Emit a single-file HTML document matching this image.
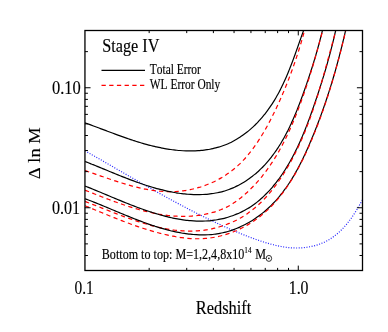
<!DOCTYPE html>
<html><head><meta charset="utf-8"><title>Stage IV</title>
<style>html,body{margin:0;padding:0;background:#fff;}body{width:388px;height:332px;overflow:hidden;font-family:"Liberation Serif",serif;}</style>
</head><body>
<svg width="388" height="332" viewBox="0 0 388 332" style="display:block;will-change:transform">
<rect width="388" height="332" fill="#fff"/>
<defs><clipPath id="c"><rect x="84.95" y="30.50" width="277.55" height="240.00"/></clipPath></defs>
<g clip-path="url(#c)" fill="none" stroke-linecap="butt" stroke-linejoin="round">
<path d="M85.04,150.84 C85.48,151.09 86.78,151.82 87.65,152.31 C88.52,152.80 89.39,153.30 90.26,153.79 C91.13,154.28 91.99,154.78 92.86,155.27 C93.73,155.77 94.60,156.26 95.47,156.76 C96.34,157.26 97.20,157.75 98.07,158.25 C98.94,158.75 99.80,159.24 100.67,159.74 C101.54,160.24 102.40,160.73 103.27,161.23 C104.14,161.73 105.00,162.22 105.87,162.72 C106.74,163.22 107.60,163.72 108.47,164.22 C109.34,164.72 110.20,165.22 111.07,165.72 C111.94,166.22 112.80,166.72 113.67,167.22 C114.54,167.72 115.40,168.21 116.27,168.71 C117.14,169.21 118.00,169.71 118.87,170.21 C119.74,170.71 120.60,171.21 121.47,171.71 C122.34,172.21 123.20,172.71 124.07,173.21 C124.94,173.71 125.80,174.21 126.67,174.71 C127.54,175.21 128.40,175.71 129.27,176.21 C130.14,176.71 131.00,177.20 131.87,177.70 C132.74,178.20 133.60,178.69 134.47,179.19 C135.34,179.69 136.21,180.19 137.08,180.69 C137.95,181.19 138.81,181.69 139.68,182.18 C140.55,182.68 141.42,183.16 142.29,183.66 C143.16,184.16 144.03,184.66 144.90,185.15 C145.77,185.65 146.64,186.14 147.51,186.63 C148.38,187.12 149.25,187.61 150.12,188.10 C150.99,188.59 151.86,189.09 152.73,189.58 C153.60,190.07 154.48,190.56 155.35,191.05 C156.22,191.54 157.09,192.02 157.96,192.51 C158.83,193.00 159.71,193.48 160.58,193.97 C161.46,194.46 162.34,194.95 163.21,195.43 C164.09,195.91 164.96,196.39 165.83,196.87 C166.71,197.35 167.58,197.84 168.46,198.32 C169.34,198.80 170.21,199.28 171.09,199.76 C171.97,200.24 172.85,200.72 173.73,201.19 C174.61,201.66 175.49,202.14 176.37,202.61 C177.25,203.08 178.13,203.56 179.01,204.03 C179.89,204.50 180.77,204.97 181.65,205.44 C182.53,205.91 183.42,206.38 184.30,206.84 C185.19,207.31 186.08,207.77 186.96,208.23 C187.84,208.69 188.72,209.16 189.61,209.62 C190.50,210.08 191.39,210.53 192.28,210.99 C193.17,211.45 194.05,211.91 194.94,212.36 C195.83,212.81 196.72,213.27 197.61,213.72 C198.50,214.17 199.40,214.62 200.29,215.07 C201.18,215.52 202.07,215.97 202.97,216.41 C203.87,216.85 204.76,217.30 205.66,217.74 C206.56,218.18 207.45,218.61 208.35,219.05 C209.25,219.49 210.14,219.93 211.04,220.36 C211.94,220.80 212.85,221.23 213.75,221.66 C214.65,222.09 215.55,222.52 216.45,222.94 C217.35,223.36 218.26,223.78 219.17,224.20 C220.08,224.62 220.98,225.04 221.89,225.46 C222.80,225.88 223.70,226.29 224.61,226.70 C225.52,227.11 226.44,227.51 227.35,227.92 C228.26,228.32 229.18,228.73 230.09,229.13 C231.00,229.53 231.91,229.93 232.83,230.32 C233.75,230.71 234.67,231.10 235.59,231.49 C236.51,231.88 237.43,232.27 238.35,232.65 C239.27,233.03 240.19,233.41 241.12,233.78 C242.05,234.16 242.97,234.53 243.90,234.90 C244.83,235.27 245.75,235.63 246.68,235.99 C247.61,236.35 248.54,236.71 249.48,237.06 C250.41,237.41 251.35,237.76 252.29,238.10 C253.23,238.44 254.17,238.78 255.11,239.12 C256.05,239.46 256.99,239.79 257.94,240.11 C258.89,240.43 259.84,240.75 260.79,241.06 C261.74,241.37 262.69,241.69 263.65,241.99 C264.61,242.29 265.57,242.59 266.53,242.88 C267.49,243.17 268.46,243.46 269.43,243.73 C270.40,244.00 271.38,244.27 272.35,244.52 C273.32,244.78 274.29,245.02 275.27,245.26 C276.25,245.50 277.24,245.72 278.22,245.93 C279.21,246.14 280.19,246.34 281.18,246.52 C282.17,246.70 283.16,246.88 284.15,247.03 C285.14,247.18 286.13,247.31 287.13,247.43 C288.13,247.55 289.13,247.65 290.13,247.73 C291.13,247.81 292.13,247.88 293.13,247.92 C294.13,247.96 295.14,247.99 296.14,247.99 C297.14,247.99 298.14,247.97 299.14,247.94 C300.14,247.91 301.13,247.85 302.13,247.78 C303.12,247.71 304.12,247.61 305.11,247.49 C306.10,247.37 307.08,247.24 308.06,247.08 C309.04,246.92 310.01,246.74 310.98,246.54 C311.95,246.34 312.92,246.12 313.88,245.87 C314.84,245.62 315.79,245.36 316.73,245.07 C317.67,244.78 318.60,244.47 319.53,244.13 C320.45,243.79 321.37,243.44 322.28,243.06 C323.19,242.68 324.08,242.28 324.97,241.85 C325.86,241.42 326.74,240.97 327.60,240.50 C328.47,240.03 329.32,239.52 330.16,239.00 C331.00,238.48 331.83,237.93 332.64,237.36 C333.45,236.79 334.25,236.19 335.04,235.58 C335.83,234.97 336.61,234.33 337.37,233.68 C338.13,233.03 338.88,232.36 339.62,231.67 C340.36,230.98 341.09,230.27 341.80,229.55 C342.51,228.83 343.21,228.09 343.90,227.34 C344.59,226.59 345.26,225.83 345.92,225.05 C346.58,224.28 347.23,223.49 347.87,222.69 C348.51,221.89 349.13,221.08 349.74,220.26 C350.35,219.44 350.94,218.62 351.53,217.79 C352.12,216.96 352.69,216.12 353.26,215.28 C353.82,214.44 354.38,213.59 354.92,212.74 C355.46,211.89 355.99,211.04 356.51,210.19 C357.03,209.34 357.55,208.48 358.05,207.63 C358.55,206.78 359.04,205.93 359.53,205.08 C360.01,204.24 360.49,203.40 360.96,202.56 C361.43,201.72 361.90,200.88 362.35,200.06 C362.81,199.24 363.25,198.42 363.69,197.61 C364.13,196.80 364.56,196.01 364.99,195.22 C365.42,194.43 366.04,193.28 366.25,192.89" stroke="#2424ff" stroke-width="1.2" stroke-dasharray="1.0,1.6"/>
<path d="M85.06,122.91 C85.53,123.08 86.94,123.57 87.87,123.91 C88.81,124.25 89.73,124.59 90.67,124.93 C91.61,125.27 92.55,125.61 93.48,125.96 C94.42,126.30 95.35,126.65 96.28,127.00 C97.21,127.35 98.15,127.69 99.08,128.04 C100.01,128.39 100.95,128.74 101.88,129.09 C102.81,129.44 103.74,129.80 104.67,130.15 C105.60,130.50 106.54,130.85 107.47,131.20 C108.40,131.55 109.33,131.90 110.27,132.25 C111.20,132.60 112.14,132.95 113.08,133.30 C114.02,133.65 114.94,134.00 115.88,134.34 C116.81,134.69 117.75,135.03 118.69,135.37 C119.63,135.71 120.57,136.05 121.51,136.39 C122.45,136.73 123.39,137.06 124.33,137.39 C125.27,137.72 126.22,138.05 127.16,138.38 C128.10,138.71 129.05,139.03 129.99,139.35 C130.94,139.67 131.88,139.98 132.83,140.29 C133.78,140.60 134.73,140.92 135.68,141.22 C136.63,141.52 137.58,141.82 138.54,142.11 C139.50,142.40 140.45,142.69 141.41,142.98 C142.37,143.26 143.34,143.55 144.30,143.82 C145.26,144.09 146.22,144.36 147.19,144.62 C148.16,144.88 149.12,145.13 150.09,145.38 C151.06,145.63 152.03,145.87 153.01,146.11 C153.99,146.35 154.97,146.58 155.95,146.80 C156.93,147.02 157.91,147.23 158.90,147.44 C159.89,147.65 160.87,147.85 161.86,148.04 C162.85,148.23 163.84,148.41 164.84,148.59 C165.84,148.77 166.84,148.93 167.84,149.09 C168.84,149.25 169.84,149.39 170.85,149.53 C171.86,149.67 172.87,149.80 173.88,149.92 C174.89,150.04 175.90,150.15 176.91,150.25 C177.92,150.35 178.94,150.44 179.95,150.52 C180.96,150.60 181.98,150.67 182.99,150.73 C184.00,150.79 185.02,150.83 186.03,150.86 C187.04,150.89 188.05,150.92 189.06,150.93 C190.07,150.94 191.09,150.94 192.10,150.93 C193.11,150.92 194.12,150.89 195.12,150.85 C196.12,150.81 197.13,150.76 198.13,150.69 C199.13,150.62 200.12,150.54 201.12,150.45 C202.12,150.35 203.11,150.24 204.10,150.12 C205.09,150.00 206.07,149.86 207.05,149.71 C208.03,149.56 209.02,149.40 209.99,149.22 C210.96,149.04 211.93,148.84 212.89,148.63 C213.85,148.42 214.82,148.19 215.77,147.94 C216.72,147.69 217.67,147.44 218.61,147.16 C219.55,146.88 220.48,146.59 221.41,146.28 C222.34,145.97 223.26,145.64 224.18,145.29 C225.10,144.94 226.01,144.58 226.91,144.20 C227.81,143.82 228.70,143.42 229.59,143.01 C230.48,142.59 231.36,142.16 232.23,141.71 C233.10,141.26 233.96,140.80 234.82,140.32 C235.68,139.84 236.53,139.35 237.37,138.84 C238.21,138.33 239.04,137.80 239.87,137.26 C240.70,136.72 241.52,136.17 242.33,135.60 C243.14,135.03 243.94,134.44 244.73,133.85 C245.52,133.25 246.31,132.65 247.09,132.03 C247.87,131.41 248.64,130.78 249.40,130.13 C250.16,129.48 250.91,128.83 251.66,128.16 C252.41,127.49 253.14,126.80 253.87,126.11 C254.60,125.42 255.31,124.72 256.02,124.01 C256.73,123.30 257.43,122.57 258.12,121.84 C258.81,121.11 259.50,120.36 260.17,119.61 C260.85,118.86 261.51,118.09 262.17,117.32 C262.83,116.55 263.47,115.78 264.11,114.99 C264.75,114.20 265.37,113.40 265.99,112.60 C266.61,111.80 267.22,110.99 267.82,110.17 C268.42,109.35 269.00,108.53 269.58,107.70 C270.16,106.87 270.73,106.03 271.29,105.19 C271.85,104.35 272.41,103.50 272.95,102.65 C273.49,101.80 274.02,100.94 274.54,100.07 C275.06,99.20 275.58,98.33 276.09,97.46 C276.60,96.59 277.09,95.71 277.58,94.83 C278.07,93.95 278.55,93.05 279.03,92.16 C279.50,91.27 279.97,90.37 280.43,89.47 C280.89,88.57 281.33,87.67 281.78,86.76 C282.22,85.85 282.67,84.94 283.10,84.03 C283.53,83.12 283.95,82.20 284.37,81.28 C284.79,80.36 285.20,79.44 285.61,78.52 C286.02,77.59 286.41,76.66 286.81,75.73 C287.21,74.80 287.60,73.87 287.99,72.94 C288.38,72.01 288.75,71.08 289.13,70.14 C289.51,69.20 289.88,68.27 290.25,67.33 C290.62,66.39 290.98,65.45 291.34,64.51 C291.70,63.57 292.06,62.63 292.41,61.69 C292.76,60.75 293.11,59.81 293.46,58.87 C293.81,57.93 294.15,56.98 294.49,56.04 C294.83,55.10 295.17,54.16 295.51,53.22 C295.85,52.28 296.18,51.34 296.51,50.40 C296.84,49.46 297.18,48.53 297.51,47.59 C297.84,46.66 298.16,45.72 298.49,44.79 C298.82,43.86 299.14,42.93 299.47,42.00 C299.80,41.07 300.12,40.14 300.45,39.22 C300.77,38.30 301.10,37.38 301.42,36.46 C301.75,35.54 302.07,34.62 302.40,33.71 C302.73,32.80 303.05,31.89 303.38,30.98 C303.71,30.07 304.04,29.18 304.37,28.28 C304.70,27.38 305.04,26.48 305.37,25.59 C305.70,24.70 306.03,23.81 306.37,22.93 C306.71,22.05 307.22,20.74 307.39,20.30" stroke="#000" stroke-width="1.2"/>
<path d="M85.06,170.58 C85.51,170.73 86.86,171.18 87.77,171.49 C88.68,171.80 89.59,172.12 90.51,172.43 C91.43,172.75 92.35,173.06 93.27,173.38 C94.19,173.70 95.11,174.02 96.04,174.35 C96.97,174.68 97.90,175.00 98.84,175.33 C99.78,175.66 100.72,175.98 101.66,176.31 C102.60,176.64 103.54,176.96 104.49,177.29 C105.44,177.62 106.39,177.95 107.34,178.28 C108.29,178.61 109.24,178.93 110.20,179.25 C111.16,179.57 112.12,179.90 113.08,180.22 C114.04,180.54 115.00,180.85 115.97,181.17 C116.94,181.48 117.91,181.80 118.88,182.11 C119.85,182.42 120.83,182.72 121.80,183.02 C122.77,183.32 123.74,183.62 124.72,183.91 C125.70,184.20 126.68,184.49 127.66,184.77 C128.64,185.05 129.62,185.33 130.61,185.60 C131.60,185.87 132.58,186.13 133.57,186.39 C134.56,186.65 135.55,186.90 136.54,187.14 C137.53,187.38 138.52,187.62 139.51,187.85 C140.50,188.08 141.50,188.29 142.49,188.50 C143.48,188.71 144.47,188.92 145.47,189.11 C146.47,189.30 147.46,189.49 148.46,189.66 C149.46,189.83 150.45,190.01 151.45,190.16 C152.45,190.31 153.45,190.45 154.45,190.58 C155.45,190.71 156.44,190.84 157.44,190.95 C158.44,191.06 159.44,191.16 160.44,191.24 C161.44,191.32 162.44,191.39 163.44,191.45 C164.44,191.51 165.44,191.56 166.44,191.59 C167.44,191.62 168.43,191.65 169.43,191.65 C170.43,191.66 171.43,191.65 172.43,191.62 C173.43,191.59 174.42,191.56 175.42,191.50 C176.41,191.44 177.41,191.37 178.40,191.29 C179.39,191.21 180.38,191.11 181.37,191.00 C182.36,190.89 183.35,190.76 184.34,190.62 C185.33,190.48 186.31,190.32 187.29,190.15 C188.27,189.98 189.25,189.80 190.22,189.60 C191.19,189.40 192.17,189.19 193.14,188.97 C194.11,188.75 195.08,188.50 196.04,188.25 C197.00,188.00 197.96,187.73 198.91,187.45 C199.86,187.17 200.81,186.87 201.76,186.56 C202.70,186.25 203.65,185.93 204.58,185.59 C205.52,185.25 206.44,184.91 207.37,184.55 C208.30,184.19 209.22,183.81 210.13,183.42 C211.04,183.03 211.95,182.63 212.85,182.21 C213.75,181.79 214.64,181.36 215.53,180.92 C216.42,180.48 217.31,180.03 218.18,179.56 C219.06,179.09 219.92,178.61 220.78,178.11 C221.64,177.62 222.50,177.11 223.34,176.59 C224.19,176.07 225.02,175.55 225.85,175.00 C226.68,174.45 227.50,173.89 228.31,173.32 C229.12,172.75 229.93,172.17 230.72,171.58 C231.51,170.99 232.30,170.38 233.08,169.76 C233.86,169.14 234.62,168.51 235.38,167.86 C236.14,167.22 236.88,166.56 237.62,165.89 C238.36,165.22 239.08,164.54 239.80,163.85 C240.52,163.16 241.22,162.45 241.92,161.74 C242.62,161.03 243.30,160.30 243.98,159.57 C244.66,158.84 245.32,158.09 245.98,157.34 C246.64,156.59 247.30,155.82 247.94,155.05 C248.58,154.28 249.22,153.50 249.84,152.71 C250.47,151.92 251.08,151.13 251.69,150.33 C252.30,149.53 252.90,148.72 253.49,147.90 C254.08,147.09 254.67,146.27 255.25,145.44 C255.83,144.61 256.41,143.78 256.97,142.94 C257.54,142.10 258.09,141.26 258.64,140.41 C259.19,139.56 259.73,138.71 260.27,137.86 C260.81,137.01 261.34,136.15 261.87,135.29 C262.40,134.43 262.92,133.56 263.43,132.69 C263.94,131.82 264.45,130.95 264.95,130.08 C265.45,129.21 265.95,128.33 266.44,127.45 C266.93,126.57 267.42,125.69 267.90,124.80 C268.38,123.91 268.86,123.02 269.33,122.13 C269.80,121.24 270.27,120.35 270.73,119.46 C271.19,118.57 271.65,117.67 272.10,116.77 C272.55,115.87 273.00,114.97 273.45,114.07 C273.89,113.17 274.33,112.27 274.77,111.36 C275.20,110.45 275.63,109.55 276.06,108.64 C276.49,107.73 276.92,106.83 277.34,105.92 C277.76,105.01 278.18,104.10 278.59,103.19 C279.00,102.28 279.41,101.37 279.82,100.46 C280.23,99.55 280.63,98.63 281.03,97.72 C281.43,96.81 281.84,95.90 282.23,94.98 C282.62,94.06 283.01,93.15 283.40,92.23 C283.79,91.31 284.18,90.40 284.56,89.48 C284.94,88.56 285.31,87.64 285.69,86.72 C286.06,85.80 286.44,84.87 286.81,83.95 C287.18,83.03 287.54,82.11 287.90,81.18 C288.26,80.26 288.62,79.33 288.98,78.40 C289.34,77.47 289.69,76.55 290.04,75.62 C290.39,74.69 290.74,73.76 291.08,72.83 C291.42,71.90 291.77,70.97 292.11,70.03 C292.45,69.09 292.79,68.16 293.12,67.22 C293.45,66.28 293.77,65.35 294.10,64.41 C294.43,63.47 294.76,62.52 295.08,61.58 C295.40,60.64 295.71,59.70 296.03,58.75 C296.34,57.80 296.66,56.86 296.97,55.91 C297.28,54.96 297.58,54.02 297.89,53.07 C298.19,52.12 298.50,51.16 298.80,50.21 C299.10,49.26 299.40,48.30 299.69,47.34 C299.98,46.38 300.27,45.43 300.56,44.47 C300.85,43.51 301.14,42.54 301.42,41.58 C301.70,40.62 301.98,39.66 302.26,38.69 C302.54,37.72 302.82,36.75 303.09,35.78 C303.36,34.81 303.63,33.84 303.90,32.87 C304.17,31.90 304.44,30.92 304.70,29.94 C304.96,28.96 305.22,27.98 305.48,27.00 C305.74,26.02 306.00,25.04 306.25,24.05 C306.50,23.07 306.88,21.58 307.01,21.09" stroke="#ff0000" stroke-width="1.2" stroke-dasharray="4.3,3.4"/>
<path d="M85.06,161.46 C85.50,161.63 86.84,162.16 87.73,162.51 C88.62,162.86 89.51,163.22 90.41,163.58 C91.31,163.94 92.21,164.29 93.11,164.66 C94.01,165.03 94.91,165.40 95.82,165.77 C96.73,166.14 97.64,166.52 98.55,166.89 C99.46,167.26 100.38,167.63 101.29,168.01 C102.21,168.39 103.12,168.77 104.04,169.15 C104.96,169.53 105.88,169.91 106.80,170.29 C107.72,170.67 108.64,171.06 109.57,171.44 C110.50,171.82 111.43,172.20 112.36,172.58 C113.29,172.96 114.22,173.35 115.15,173.73 C116.08,174.11 117.02,174.49 117.96,174.87 C118.90,175.25 119.84,175.62 120.78,176.00 C121.72,176.38 122.66,176.75 123.61,177.12 C124.56,177.49 125.50,177.86 126.45,178.23 C127.40,178.60 128.34,178.97 129.29,179.33 C130.24,179.69 131.19,180.05 132.15,180.40 C133.11,180.75 134.06,181.11 135.02,181.46 C135.98,181.81 136.93,182.16 137.89,182.50 C138.85,182.84 139.81,183.18 140.77,183.51 C141.73,183.84 142.69,184.18 143.66,184.50 C144.62,184.82 145.59,185.14 146.56,185.45 C147.53,185.76 148.50,186.07 149.47,186.37 C150.44,186.67 151.41,186.97 152.38,187.26 C153.35,187.55 154.33,187.83 155.30,188.11 C156.27,188.39 157.25,188.66 158.22,188.92 C159.19,189.18 160.17,189.43 161.15,189.68 C162.13,189.93 163.11,190.17 164.09,190.40 C165.07,190.63 166.05,190.86 167.03,191.08 C168.01,191.30 169.00,191.50 169.98,191.70 C170.96,191.90 171.95,192.09 172.93,192.27 C173.91,192.45 174.89,192.62 175.88,192.78 C176.87,192.94 177.85,193.10 178.84,193.24 C179.83,193.38 180.82,193.52 181.81,193.64 C182.80,193.76 183.78,193.87 184.77,193.97 C185.76,194.07 186.75,194.16 187.74,194.24 C188.73,194.32 189.72,194.38 190.71,194.44 C191.70,194.50 192.70,194.54 193.69,194.57 C194.68,194.60 195.67,194.62 196.66,194.62 C197.65,194.62 198.65,194.62 199.64,194.60 C200.63,194.58 201.63,194.55 202.62,194.51 C203.61,194.47 204.61,194.41 205.60,194.33 C206.59,194.26 207.59,194.16 208.58,194.06 C209.57,193.96 210.56,193.84 211.55,193.71 C212.54,193.58 213.52,193.44 214.51,193.27 C215.50,193.11 216.48,192.92 217.46,192.72 C218.44,192.52 219.41,192.31 220.38,192.08 C221.35,191.85 222.32,191.59 223.28,191.32 C224.24,191.05 225.20,190.76 226.15,190.45 C227.10,190.14 228.04,189.81 228.98,189.47 C229.92,189.12 230.85,188.76 231.77,188.38 C232.69,188.00 233.61,187.60 234.52,187.19 C235.43,186.78 236.32,186.34 237.22,185.89 C238.12,185.44 239.01,184.98 239.89,184.50 C240.77,184.02 241.64,183.53 242.50,183.02 C243.36,182.51 244.22,181.99 245.06,181.45 C245.91,180.91 246.74,180.36 247.57,179.80 C248.40,179.24 249.21,178.66 250.02,178.07 C250.83,177.48 251.62,176.87 252.41,176.26 C253.20,175.65 253.97,175.02 254.74,174.39 C255.51,173.75 256.26,173.10 257.01,172.45 C257.76,171.79 258.50,171.13 259.22,170.46 C259.95,169.79 260.66,169.10 261.36,168.40 C262.06,167.70 262.76,167.00 263.45,166.28 C264.13,165.56 264.81,164.84 265.47,164.11 C266.14,163.38 266.79,162.64 267.44,161.89 C268.09,161.14 268.72,160.38 269.35,159.61 C269.98,158.84 270.60,158.07 271.21,157.29 C271.82,156.51 272.42,155.72 273.02,154.92 C273.62,154.12 274.20,153.32 274.78,152.51 C275.36,151.70 275.92,150.88 276.48,150.05 C277.04,149.23 277.59,148.40 278.14,147.56 C278.69,146.72 279.22,145.87 279.75,145.02 C280.28,144.17 280.81,143.31 281.32,142.45 C281.83,141.59 282.34,140.72 282.84,139.85 C283.34,138.98 283.84,138.10 284.33,137.22 C284.82,136.34 285.30,135.44 285.77,134.55 C286.24,133.66 286.71,132.76 287.17,131.86 C287.63,130.96 288.09,130.06 288.54,129.15 C288.99,128.24 289.43,127.33 289.87,126.41 C290.31,125.49 290.73,124.57 291.16,123.65 C291.59,122.73 292.01,121.80 292.43,120.87 C292.85,119.94 293.25,119.01 293.66,118.08 C294.07,117.15 294.46,116.21 294.86,115.27 C295.26,114.33 295.65,113.39 296.04,112.45 C296.43,111.51 296.81,110.56 297.19,109.62 C297.57,108.68 297.94,107.74 298.31,106.79 C298.68,105.84 299.05,104.89 299.41,103.94 C299.77,102.99 300.13,102.05 300.49,101.10 C300.85,100.15 301.19,99.20 301.54,98.25 C301.89,97.30 302.24,96.36 302.58,95.41 C302.92,94.46 303.26,93.52 303.60,92.57 C303.94,91.62 304.28,90.67 304.61,89.73 C304.94,88.79 305.27,87.84 305.60,86.90 C305.93,85.96 306.25,85.02 306.57,84.08 C306.89,83.14 307.22,82.20 307.54,81.26 C307.86,80.32 308.18,79.39 308.49,78.45 C308.80,77.51 309.11,76.58 309.42,75.64 C309.73,74.70 310.03,73.77 310.34,72.83 C310.64,71.89 310.95,70.96 311.25,70.02 C311.55,69.08 311.85,68.14 312.15,67.20 C312.45,66.26 312.74,65.32 313.03,64.38 C313.32,63.44 313.61,62.49 313.90,61.55 C314.19,60.61 314.47,59.66 314.76,58.72 C315.05,57.77 315.33,56.83 315.61,55.88 C315.89,54.93 316.17,53.98 316.44,53.02 C316.71,52.07 316.99,51.11 317.26,50.15 C317.53,49.19 317.79,48.23 318.06,47.27 C318.33,46.31 318.60,45.34 318.86,44.37 C319.12,43.40 319.38,42.43 319.64,41.45 C319.90,40.47 320.16,39.49 320.41,38.51 C320.67,37.52 320.92,36.53 321.17,35.54 C321.42,34.55 321.67,33.56 321.92,32.56 C322.17,31.56 322.42,30.56 322.66,29.55 C322.90,28.54 323.14,27.53 323.38,26.51 C323.62,25.49 323.85,24.47 324.09,23.44 C324.33,22.41 324.68,20.87 324.80,20.35" stroke="#000" stroke-width="1.2"/>
<path d="M85.01,190.19 C85.47,190.37 86.83,190.90 87.74,191.26 C88.65,191.62 89.56,191.99 90.48,192.35 C91.40,192.71 92.31,193.07 93.23,193.43 C94.15,193.79 95.08,194.16 96.00,194.52 C96.92,194.88 97.84,195.25 98.77,195.61 C99.70,195.97 100.63,196.34 101.56,196.70 C102.49,197.06 103.42,197.42 104.36,197.78 C105.30,198.14 106.23,198.50 107.17,198.86 C108.11,199.22 109.06,199.57 110.00,199.92 C110.94,200.27 111.88,200.63 112.83,200.98 C113.78,201.33 114.72,201.68 115.67,202.02 C116.62,202.36 117.57,202.70 118.52,203.04 C119.47,203.38 120.42,203.71 121.38,204.04 C122.33,204.37 123.29,204.70 124.25,205.02 C125.21,205.34 126.17,205.66 127.13,205.98 C128.09,206.29 129.06,206.60 130.02,206.91 C130.99,207.22 131.95,207.51 132.92,207.81 C133.89,208.11 134.85,208.40 135.82,208.68 C136.79,208.96 137.76,209.24 138.73,209.51 C139.70,209.78 140.67,210.05 141.64,210.31 C142.61,210.57 143.59,210.82 144.57,211.07 C145.55,211.32 146.52,211.56 147.50,211.79 C148.48,212.02 149.45,212.25 150.43,212.47 C151.41,212.69 152.39,212.90 153.37,213.10 C154.35,213.30 155.33,213.49 156.31,213.68 C157.29,213.87 158.27,214.05 159.26,214.22 C160.25,214.39 161.24,214.55 162.22,214.70 C163.20,214.85 164.18,214.99 165.17,215.12 C166.16,215.25 167.15,215.38 168.14,215.49 C169.13,215.60 170.11,215.70 171.10,215.79 C172.09,215.88 173.08,215.97 174.07,216.04 C175.06,216.11 176.05,216.17 177.04,216.22 C178.03,216.27 179.02,216.31 180.01,216.33 C181.00,216.36 181.99,216.37 182.98,216.37 C183.97,216.37 184.96,216.36 185.95,216.34 C186.94,216.32 187.94,216.29 188.93,216.24 C189.92,216.19 190.91,216.12 191.90,216.05 C192.89,215.98 193.89,215.89 194.88,215.79 C195.87,215.69 196.87,215.58 197.86,215.45 C198.85,215.32 199.84,215.18 200.83,215.02 C201.82,214.86 202.82,214.69 203.81,214.51 C204.80,214.32 205.79,214.12 206.78,213.91 C207.77,213.69 208.75,213.47 209.74,213.22 C210.73,212.97 211.71,212.71 212.69,212.43 C213.67,212.15 214.64,211.87 215.60,211.56 C216.56,211.25 217.51,210.93 218.46,210.59 C219.41,210.25 220.35,209.90 221.28,209.53 C222.21,209.16 223.12,208.77 224.02,208.36 C224.92,207.95 225.82,207.53 226.70,207.09 C227.58,206.65 228.45,206.18 229.31,205.70 C230.17,205.22 231.02,204.72 231.86,204.20 C232.70,203.68 233.53,203.15 234.35,202.60 C235.17,202.05 235.98,201.47 236.79,200.89 C237.60,200.31 238.40,199.71 239.19,199.10 C239.98,198.49 240.77,197.86 241.55,197.22 C242.33,196.58 243.10,195.93 243.86,195.27 C244.62,194.61 245.38,193.95 246.12,193.27 C246.87,192.59 247.60,191.91 248.33,191.22 C249.06,190.53 249.79,189.83 250.50,189.13 C251.21,188.43 251.91,187.72 252.61,187.00 C253.31,186.28 254.00,185.56 254.68,184.83 C255.36,184.10 256.02,183.36 256.69,182.62 C257.36,181.88 258.02,181.13 258.67,180.38 C259.32,179.62 259.95,178.86 260.59,178.09 C261.22,177.32 261.86,176.56 262.48,175.78 C263.10,175.00 263.71,174.22 264.32,173.43 C264.93,172.64 265.52,171.84 266.11,171.04 C266.70,170.24 267.29,169.44 267.87,168.63 C268.45,167.82 269.02,167.00 269.59,166.18 C270.15,165.36 270.71,164.54 271.26,163.71 C271.81,162.88 272.36,162.05 272.90,161.21 C273.44,160.37 273.97,159.53 274.50,158.68 C275.03,157.83 275.55,156.98 276.07,156.13 C276.59,155.28 277.10,154.41 277.60,153.55 C278.10,152.69 278.60,151.82 279.09,150.95 C279.58,150.08 280.07,149.20 280.55,148.32 C281.03,147.44 281.51,146.56 281.98,145.68 C282.45,144.80 282.91,143.90 283.37,143.01 C283.83,142.12 284.29,141.23 284.74,140.33 C285.19,139.43 285.63,138.53 286.07,137.63 C286.51,136.73 286.95,135.82 287.38,134.91 C287.81,134.00 288.24,133.09 288.66,132.18 C289.08,131.27 289.50,130.36 289.91,129.44 C290.32,128.52 290.73,127.60 291.13,126.68 C291.53,125.76 291.93,124.83 292.33,123.91 C292.73,122.98 293.12,122.06 293.51,121.13 C293.90,120.20 294.28,119.27 294.66,118.34 C295.04,117.41 295.42,116.48 295.79,115.55 C296.16,114.62 296.53,113.67 296.90,112.74 C297.27,111.80 297.63,110.88 297.99,109.94 C298.35,109.00 298.71,108.06 299.06,107.12 C299.41,106.18 299.76,105.25 300.11,104.31 C300.46,103.37 300.80,102.43 301.14,101.49 C301.48,100.55 301.82,99.61 302.16,98.67 C302.50,97.73 302.83,96.78 303.16,95.84 C303.49,94.90 303.81,93.96 304.14,93.02 C304.46,92.08 304.79,91.13 305.11,90.19 C305.43,89.25 305.75,88.30 306.06,87.35 C306.38,86.40 306.69,85.46 307.00,84.51 C307.31,83.56 307.61,82.62 307.92,81.67 C308.23,80.72 308.54,79.78 308.84,78.83 C309.14,77.88 309.44,76.93 309.74,75.98 C310.04,75.03 310.33,74.08 310.62,73.13 C310.91,72.18 311.21,71.22 311.50,70.27 C311.79,69.32 312.07,68.36 312.36,67.41 C312.65,66.45 312.94,65.50 313.22,64.54 C313.50,63.58 313.78,62.63 314.06,61.67 C314.34,60.71 314.62,59.76 314.90,58.80 C315.18,57.84 315.46,56.88 315.73,55.92 C316.00,54.96 316.28,53.99 316.55,53.03 C316.82,52.07 317.09,51.10 317.36,50.14 C317.63,49.18 317.89,48.22 318.16,47.25 C318.43,46.28 318.69,45.32 318.96,44.35 C319.22,43.38 319.49,42.42 319.75,41.45 C320.01,40.48 320.28,39.50 320.54,38.53 C320.80,37.56 321.06,36.59 321.32,35.62 C321.58,34.65 321.84,33.68 322.10,32.70 C322.36,31.73 322.62,30.75 322.88,29.77 C323.14,28.79 323.39,27.81 323.65,26.83 C323.91,25.85 324.16,24.87 324.42,23.89 C324.68,22.91 325.06,21.44 325.19,20.95" stroke="#ff0000" stroke-width="1.2" stroke-dasharray="4.3,3.4"/>
<path d="M85.15,186.11 C85.59,186.28 86.89,186.79 87.76,187.13 C88.63,187.47 89.51,187.82 90.39,188.17 C91.27,188.52 92.15,188.88 93.04,189.24 C93.93,189.60 94.82,189.96 95.71,190.33 C96.60,190.70 97.49,191.07 98.39,191.44 C99.29,191.81 100.19,192.19 101.10,192.57 C102.01,192.95 102.92,193.33 103.83,193.71 C104.74,194.09 105.65,194.48 106.57,194.86 C107.49,195.24 108.41,195.62 109.33,196.01 C110.25,196.40 111.17,196.79 112.10,197.18 C113.03,197.57 113.96,197.95 114.89,198.34 C115.82,198.73 116.75,199.12 117.69,199.51 C118.63,199.90 119.57,200.28 120.51,200.67 C121.45,201.06 122.39,201.45 123.34,201.83 C124.29,202.22 125.24,202.60 126.19,202.98 C127.14,203.36 128.10,203.74 129.05,204.12 C130.00,204.50 130.95,204.87 131.91,205.24 C132.87,205.61 133.83,205.98 134.79,206.35 C135.75,206.72 136.72,207.08 137.68,207.44 C138.65,207.80 139.61,208.16 140.58,208.51 C141.55,208.86 142.52,209.21 143.49,209.55 C144.46,209.89 145.43,210.24 146.40,210.57 C147.37,210.90 148.35,211.23 149.33,211.55 C150.31,211.87 151.28,212.20 152.26,212.51 C153.24,212.82 154.21,213.12 155.19,213.42 C156.17,213.72 157.15,214.01 158.13,214.30 C159.11,214.59 160.10,214.87 161.08,215.14 C162.06,215.41 163.05,215.68 164.03,215.94 C165.01,216.20 166.00,216.45 166.99,216.69 C167.98,216.93 168.95,217.16 169.94,217.39 C170.93,217.61 171.91,217.83 172.90,218.04 C173.89,218.25 174.87,218.44 175.86,218.63 C176.85,218.82 177.84,219.00 178.83,219.17 C179.82,219.34 180.80,219.50 181.79,219.65 C182.78,219.80 183.76,219.93 184.75,220.06 C185.74,220.19 186.72,220.31 187.71,220.42 C188.70,220.53 189.68,220.62 190.67,220.70 C191.66,220.78 192.64,220.85 193.63,220.91 C194.62,220.97 195.61,221.02 196.59,221.05 C197.57,221.08 198.56,221.10 199.54,221.11 C200.52,221.12 201.50,221.12 202.48,221.10 C203.46,221.08 204.45,221.05 205.43,221.00 C206.41,220.95 207.38,220.89 208.36,220.82 C209.34,220.75 210.31,220.66 211.29,220.55 C212.27,220.45 213.25,220.32 214.22,220.19 C215.19,220.06 216.16,219.91 217.13,219.74 C218.10,219.57 219.07,219.39 220.04,219.19 C221.01,218.99 221.98,218.78 222.94,218.55 C223.90,218.32 224.86,218.07 225.82,217.81 C226.78,217.55 227.74,217.27 228.69,216.98 C229.64,216.69 230.59,216.37 231.53,216.04 C232.47,215.71 233.42,215.38 234.35,215.02 C235.28,214.66 236.21,214.29 237.13,213.90 C238.05,213.51 238.96,213.10 239.87,212.68 C240.78,212.26 241.68,211.82 242.57,211.37 C243.46,210.92 244.34,210.45 245.22,209.97 C246.09,209.49 246.96,208.98 247.82,208.47 C248.68,207.96 249.52,207.43 250.36,206.89 C251.20,206.35 252.03,205.78 252.85,205.21 C253.67,204.64 254.47,204.05 255.27,203.45 C256.07,202.85 256.86,202.24 257.64,201.61 C258.42,200.98 259.19,200.34 259.95,199.69 C260.71,199.04 261.46,198.37 262.20,197.70 C262.94,197.03 263.67,196.34 264.40,195.65 C265.12,194.96 265.84,194.25 266.55,193.53 C267.26,192.81 267.95,192.09 268.64,191.35 C269.33,190.61 270.00,189.87 270.67,189.11 C271.34,188.36 272.01,187.59 272.66,186.82 C273.31,186.05 273.95,185.28 274.59,184.49 C275.22,183.71 275.85,182.91 276.47,182.11 C277.09,181.31 277.71,180.51 278.31,179.70 C278.91,178.89 279.50,178.07 280.09,177.25 C280.67,176.43 281.25,175.60 281.82,174.77 C282.39,173.94 282.95,173.10 283.51,172.26 C284.06,171.42 284.61,170.58 285.15,169.73 C285.69,168.88 286.22,168.03 286.74,167.17 C287.26,166.31 287.78,165.45 288.29,164.59 C288.80,163.73 289.30,162.86 289.80,161.99 C290.30,161.12 290.79,160.25 291.27,159.37 C291.75,158.49 292.22,157.61 292.69,156.73 C293.16,155.85 293.62,154.96 294.08,154.07 C294.54,153.18 294.99,152.28 295.44,151.39 C295.89,150.49 296.32,149.60 296.76,148.70 C297.19,147.80 297.62,146.90 298.05,145.99 C298.48,145.08 298.90,144.17 299.31,143.26 C299.72,142.35 300.13,141.44 300.53,140.53 C300.93,139.62 301.34,138.69 301.73,137.77 C302.12,136.85 302.51,135.93 302.90,135.01 C303.29,134.09 303.67,133.16 304.05,132.23 C304.43,131.30 304.81,130.38 305.18,129.45 C305.55,128.52 305.92,127.58 306.28,126.65 C306.64,125.72 307.00,124.79 307.36,123.85 C307.72,122.91 308.07,121.97 308.42,121.03 C308.77,120.09 309.12,119.16 309.47,118.22 C309.82,117.28 310.16,116.33 310.50,115.39 C310.84,114.45 311.18,113.50 311.51,112.56 C311.84,111.62 312.18,110.67 312.51,109.73 C312.84,108.79 313.18,107.84 313.51,106.90 C313.84,105.96 314.17,105.01 314.49,104.06 C314.81,103.11 315.14,102.17 315.46,101.22 C315.78,100.27 316.10,99.33 316.42,98.38 C316.74,97.43 317.05,96.49 317.37,95.54 C317.69,94.59 318.01,93.65 318.32,92.70 C318.63,91.75 318.94,90.80 319.25,89.85 C319.56,88.90 319.87,87.95 320.17,87.00 C320.48,86.05 320.78,85.10 321.08,84.15 C321.38,83.20 321.68,82.24 321.98,81.29 C322.28,80.34 322.57,79.38 322.87,78.43 C323.17,77.48 323.46,76.52 323.75,75.57 C324.04,74.62 324.33,73.66 324.61,72.71 C324.89,71.75 325.18,70.80 325.46,69.84 C325.74,68.88 326.02,67.93 326.30,66.97 C326.58,66.01 326.86,65.05 327.13,64.09 C327.40,63.13 327.67,62.17 327.94,61.21 C328.21,60.25 328.48,59.28 328.74,58.32 C329.00,57.36 329.26,56.39 329.52,55.43 C329.78,54.47 330.05,53.50 330.30,52.54 C330.56,51.58 330.80,50.61 331.05,49.64 C331.30,48.67 331.56,47.70 331.80,46.73 C332.05,45.76 332.28,44.79 332.52,43.82 C332.76,42.85 333.00,41.87 333.24,40.90 C333.48,39.93 333.70,38.95 333.93,37.98 C334.16,37.00 334.38,36.03 334.61,35.05 C334.84,34.07 335.06,33.10 335.28,32.12 C335.50,31.14 335.72,30.15 335.93,29.17 C336.14,28.19 336.35,27.21 336.56,26.23 C336.77,25.25 336.97,24.26 337.17,23.27 C337.37,22.28 337.67,20.80 337.77,20.31" stroke="#000" stroke-width="1.2"/>
<path d="M85.05,201.42 C85.50,201.59 86.83,202.10 87.73,202.45 C88.63,202.80 89.53,203.15 90.43,203.50 C91.33,203.85 92.24,204.21 93.15,204.57 C94.06,204.93 94.97,205.29 95.88,205.65 C96.79,206.01 97.71,206.38 98.63,206.74 C99.55,207.11 100.47,207.47 101.39,207.84 C102.31,208.21 103.23,208.57 104.16,208.94 C105.09,209.31 106.02,209.68 106.95,210.05 C107.88,210.42 108.81,210.79 109.75,211.16 C110.69,211.53 111.62,211.89 112.56,212.26 C113.50,212.63 114.44,213.00 115.38,213.36 C116.32,213.73 117.26,214.09 118.21,214.45 C119.16,214.81 120.11,215.17 121.06,215.53 C122.01,215.89 122.96,216.24 123.91,216.59 C124.86,216.94 125.82,217.29 126.78,217.64 C127.74,217.99 128.69,218.33 129.65,218.67 C130.61,219.01 131.57,219.35 132.53,219.68 C133.49,220.01 134.45,220.34 135.42,220.66 C136.38,220.98 137.35,221.31 138.32,221.62 C139.29,221.93 140.26,222.24 141.23,222.54 C142.20,222.84 143.17,223.15 144.14,223.44 C145.11,223.73 146.09,224.01 147.06,224.29 C148.03,224.57 149.01,224.84 149.99,225.11 C150.97,225.38 151.94,225.64 152.92,225.89 C153.90,226.14 154.87,226.39 155.85,226.63 C156.83,226.87 157.81,227.10 158.79,227.32 C159.77,227.54 160.76,227.75 161.74,227.96 C162.72,228.17 163.71,228.36 164.69,228.55 C165.67,228.74 166.65,228.92 167.64,229.09 C168.62,229.26 169.61,229.42 170.60,229.57 C171.59,229.72 172.56,229.86 173.55,229.99 C174.54,230.12 175.52,230.24 176.51,230.35 C177.50,230.46 178.48,230.55 179.47,230.64 C180.46,230.72 181.44,230.80 182.43,230.86 C183.42,230.92 184.40,230.98 185.39,231.02 C186.38,231.06 187.37,231.08 188.36,231.10 C189.35,231.12 190.33,231.12 191.32,231.11 C192.31,231.10 193.30,231.07 194.28,231.03 C195.26,230.99 196.25,230.94 197.23,230.88 C198.21,230.81 199.20,230.73 200.19,230.64 C201.18,230.55 202.15,230.44 203.14,230.32 C204.12,230.20 205.12,230.06 206.10,229.91 C207.08,229.76 208.06,229.58 209.04,229.40 C210.02,229.22 211.00,229.02 211.98,228.81 C212.96,228.60 213.93,228.37 214.90,228.13 C215.87,227.89 216.84,227.63 217.81,227.36 C218.78,227.09 219.74,226.81 220.70,226.51 C221.66,226.21 222.62,225.90 223.57,225.57 C224.52,225.24 225.46,224.90 226.40,224.54 C227.34,224.18 228.28,223.81 229.21,223.43 C230.14,223.05 231.06,222.65 231.98,222.24 C232.90,221.83 233.81,221.41 234.71,220.97 C235.61,220.53 236.51,220.09 237.40,219.62 C238.29,219.16 239.18,218.67 240.05,218.18 C240.92,217.69 241.78,217.19 242.64,216.67 C243.49,216.15 244.34,215.62 245.18,215.08 C246.02,214.54 246.84,213.98 247.66,213.41 C248.48,212.84 249.28,212.26 250.08,211.67 C250.88,211.08 251.67,210.47 252.45,209.85 C253.23,209.23 254.00,208.61 254.76,207.97 C255.52,207.33 256.28,206.68 257.03,206.02 C257.77,205.36 258.50,204.70 259.23,204.02 C259.96,203.34 260.68,202.65 261.39,201.95 C262.10,201.25 262.81,200.55 263.50,199.83 C264.19,199.11 264.88,198.38 265.56,197.65 C266.24,196.92 266.90,196.18 267.56,195.43 C268.22,194.68 268.88,193.93 269.53,193.16 C270.18,192.39 270.81,191.62 271.44,190.84 C272.07,190.06 272.70,189.28 273.32,188.49 C273.94,187.70 274.54,186.90 275.14,186.10 C275.74,185.30 276.34,184.48 276.93,183.67 C277.52,182.85 278.11,182.03 278.68,181.21 C279.25,180.39 279.82,179.56 280.38,178.73 C280.94,177.90 281.49,177.06 282.04,176.22 C282.59,175.38 283.13,174.53 283.67,173.68 C284.21,172.83 284.74,171.98 285.26,171.13 C285.78,170.28 286.30,169.42 286.81,168.56 C287.32,167.70 287.83,166.84 288.33,165.97 C288.83,165.10 289.32,164.24 289.81,163.37 C290.30,162.50 290.78,161.63 291.26,160.75 C291.74,159.87 292.21,158.99 292.68,158.11 C293.15,157.23 293.60,156.34 294.06,155.45 C294.52,154.56 294.97,153.67 295.42,152.78 C295.87,151.89 296.31,151.00 296.74,150.10 C297.18,149.20 297.60,148.30 298.03,147.40 C298.46,146.50 298.88,145.59 299.30,144.68 C299.72,143.77 300.12,142.86 300.53,141.95 C300.94,141.04 301.34,140.12 301.74,139.21 C302.14,138.30 302.54,137.38 302.93,136.46 C303.32,135.54 303.70,134.62 304.08,133.70 C304.46,132.78 304.85,131.85 305.22,130.92 C305.60,129.99 305.96,129.06 306.33,128.13 C306.69,127.20 307.05,126.26 307.41,125.33 C307.77,124.40 308.13,123.47 308.48,122.53 C308.83,121.59 309.18,120.65 309.52,119.71 C309.86,118.77 310.20,117.82 310.54,116.88 C310.88,115.94 311.22,115.00 311.55,114.05 C311.88,113.10 312.20,112.16 312.53,111.21 C312.85,110.26 313.18,109.31 313.50,108.36 C313.82,107.41 314.14,106.45 314.45,105.50 C314.76,104.55 315.07,103.59 315.38,102.64 C315.69,101.69 316.00,100.73 316.30,99.77 C316.60,98.81 316.90,97.86 317.20,96.90 C317.50,95.94 317.79,94.98 318.09,94.02 C318.38,93.06 318.68,92.10 318.97,91.14 C319.26,90.18 319.54,89.21 319.83,88.25 C320.12,87.29 320.41,86.32 320.69,85.36 C320.97,84.40 321.25,83.44 321.53,82.47 C321.81,81.50 322.08,80.53 322.36,79.57 C322.64,78.60 322.92,77.65 323.19,76.68 C323.46,75.72 323.74,74.75 324.01,73.78 C324.28,72.81 324.55,71.85 324.82,70.88 C325.09,69.91 325.35,68.95 325.62,67.98 C325.89,67.01 326.16,66.05 326.42,65.08 C326.69,64.11 326.95,63.14 327.21,62.18 C327.47,61.22 327.74,60.25 328.00,59.29 C328.26,58.33 328.53,57.36 328.79,56.39 C329.05,55.42 329.32,54.46 329.58,53.50 C329.84,52.54 330.10,51.57 330.36,50.61 C330.62,49.65 330.88,48.68 331.14,47.72 C331.40,46.76 331.67,45.80 331.93,44.84 C332.19,43.88 332.45,42.92 332.71,41.96 C332.97,41.00 333.24,40.05 333.50,39.09 C333.76,38.13 334.03,37.17 334.29,36.22 C334.56,35.27 334.82,34.31 335.09,33.36 C335.36,32.41 335.62,31.45 335.89,30.50 C336.16,29.55 336.42,28.60 336.69,27.65 C336.96,26.70 337.23,25.75 337.50,24.81 C337.77,23.86 338.18,22.45 338.32,21.98" stroke="#ff0000" stroke-width="1.2" stroke-dasharray="4.3,3.4"/>
<path d="M85.07,198.80 C85.51,198.96 86.85,199.45 87.74,199.78 C88.63,200.11 89.52,200.45 90.42,200.79 C91.32,201.13 92.22,201.48 93.12,201.83 C94.02,202.18 94.92,202.54 95.83,202.90 C96.73,203.26 97.64,203.62 98.55,203.99 C99.46,204.36 100.37,204.73 101.28,205.10 C102.19,205.47 103.10,205.84 104.02,206.22 C104.94,206.60 105.86,206.98 106.78,207.36 C107.70,207.74 108.62,208.13 109.54,208.52 C110.46,208.91 111.39,209.29 112.32,209.68 C113.25,210.07 114.17,210.46 115.10,210.85 C116.03,211.24 116.97,211.63 117.90,212.02 C118.84,212.41 119.77,212.80 120.71,213.19 C121.65,213.58 122.58,213.97 123.52,214.36 C124.46,214.75 125.41,215.14 126.35,215.53 C127.29,215.92 128.23,216.30 129.18,216.68 C130.13,217.06 131.08,217.45 132.03,217.83 C132.98,218.21 133.93,218.59 134.88,218.96 C135.83,219.34 136.79,219.71 137.74,220.08 C138.69,220.45 139.64,220.82 140.60,221.18 C141.56,221.54 142.52,221.90 143.48,222.25 C144.44,222.60 145.40,222.95 146.36,223.30 C147.32,223.65 148.28,223.99 149.25,224.33 C150.22,224.67 151.18,225.00 152.15,225.32 C153.12,225.64 154.08,225.97 155.05,226.28 C156.02,226.59 156.99,226.91 157.96,227.21 C158.93,227.51 159.91,227.80 160.88,228.09 C161.85,228.38 162.83,228.66 163.80,228.94 C164.77,229.22 165.75,229.48 166.72,229.74 C167.69,230.00 168.67,230.25 169.65,230.49 C170.63,230.73 171.61,230.97 172.59,231.19 C173.57,231.41 174.55,231.63 175.53,231.84 C176.51,232.05 177.50,232.25 178.48,232.44 C179.46,232.63 180.44,232.81 181.42,232.98 C182.40,233.15 183.39,233.30 184.38,233.45 C185.37,233.60 186.35,233.73 187.33,233.86 C188.31,233.99 189.30,234.11 190.29,234.21 C191.28,234.31 192.27,234.41 193.26,234.49 C194.25,234.57 195.23,234.63 196.22,234.69 C197.21,234.75 198.20,234.79 199.19,234.82 C200.18,234.85 201.17,234.87 202.16,234.87 C203.15,234.87 204.14,234.86 205.13,234.84 C206.12,234.82 207.11,234.78 208.10,234.73 C209.09,234.68 210.08,234.61 211.07,234.53 C212.06,234.45 213.05,234.36 214.03,234.24 C215.01,234.12 216.00,233.99 216.98,233.84 C217.96,233.69 218.94,233.53 219.92,233.35 C220.90,233.17 221.87,232.97 222.84,232.75 C223.81,232.53 224.77,232.30 225.73,232.05 C226.69,231.80 227.65,231.53 228.60,231.25 C229.55,230.97 230.50,230.67 231.45,230.35 C232.39,230.03 233.34,229.70 234.27,229.35 C235.20,229.00 236.13,228.64 237.05,228.26 C237.97,227.88 238.90,227.49 239.81,227.08 C240.72,226.67 241.63,226.25 242.53,225.82 C243.43,225.38 244.32,224.94 245.21,224.47 C246.10,224.00 246.97,223.52 247.85,223.03 C248.72,222.54 249.60,222.04 250.46,221.52 C251.32,221.00 252.18,220.48 253.02,219.94 C253.87,219.40 254.70,218.84 255.53,218.28 C256.36,217.72 257.19,217.14 258.00,216.55 C258.81,215.96 259.62,215.37 260.42,214.76 C261.22,214.15 262.00,213.53 262.78,212.90 C263.56,212.27 264.34,211.63 265.10,210.98 C265.86,210.33 266.61,209.67 267.35,209.00 C268.09,208.33 268.83,207.66 269.55,206.97 C270.27,206.28 270.99,205.58 271.69,204.88 C272.39,204.18 273.08,203.46 273.77,202.74 C274.45,202.02 275.13,201.29 275.80,200.55 C276.47,199.81 277.12,199.07 277.77,198.32 C278.42,197.57 279.07,196.81 279.70,196.04 C280.33,195.27 280.95,194.49 281.57,193.71 C282.19,192.93 282.79,192.13 283.39,191.34 C283.99,190.55 284.59,189.75 285.17,188.94 C285.75,188.13 286.32,187.31 286.89,186.49 C287.46,185.67 288.02,184.85 288.58,184.02 C289.13,183.19 289.68,182.34 290.22,181.50 C290.76,180.66 291.29,179.81 291.82,178.96 C292.35,178.11 292.87,177.24 293.38,176.38 C293.89,175.52 294.41,174.65 294.91,173.78 C295.41,172.91 295.90,172.03 296.39,171.15 C296.88,170.27 297.36,169.39 297.84,168.50 C298.32,167.61 298.79,166.72 299.26,165.82 C299.73,164.92 300.19,164.03 300.65,163.13 C301.11,162.23 301.55,161.33 302.00,160.42 C302.45,159.51 302.89,158.60 303.33,157.69 C303.77,156.78 304.20,155.87 304.63,154.95 C305.06,154.03 305.48,153.11 305.90,152.19 C306.32,151.27 306.74,150.34 307.15,149.42 C307.56,148.50 307.98,147.57 308.38,146.65 C308.78,145.73 309.18,144.80 309.58,143.87 C309.98,142.94 310.38,142.02 310.77,141.09 C311.16,140.16 311.55,139.23 311.94,138.30 C312.33,137.37 312.71,136.44 313.09,135.51 C313.47,134.58 313.85,133.65 314.22,132.72 C314.60,131.79 314.97,130.86 315.34,129.93 C315.71,129.00 316.07,128.06 316.44,127.13 C316.81,126.20 317.17,125.26 317.53,124.33 C317.89,123.40 318.24,122.46 318.59,121.53 C318.94,120.60 319.30,119.66 319.65,118.73 C320.00,117.80 320.35,116.87 320.69,115.93 C321.03,115.00 321.37,114.06 321.71,113.12 C322.05,112.18 322.38,111.25 322.71,110.31 C323.04,109.37 323.38,108.43 323.71,107.49 C324.04,106.55 324.36,105.61 324.68,104.67 C325.00,103.73 325.33,102.79 325.65,101.85 C325.97,100.91 326.29,99.97 326.60,99.03 C326.91,98.09 327.22,97.14 327.53,96.20 C327.84,95.26 328.14,94.31 328.45,93.37 C328.75,92.43 329.06,91.48 329.36,90.53 C329.66,89.58 329.96,88.64 330.26,87.69 C330.56,86.74 330.85,85.79 331.14,84.84 C331.43,83.89 331.72,82.94 332.01,81.99 C332.30,81.04 332.59,80.09 332.87,79.14 C333.15,78.19 333.43,77.23 333.71,76.28 C333.99,75.33 334.27,74.37 334.55,73.41 C334.83,72.45 335.10,71.50 335.37,70.54 C335.64,69.58 335.91,68.63 336.18,67.67 C336.45,66.71 336.72,65.74 336.98,64.78 C337.25,63.82 337.51,62.86 337.77,61.90 C338.03,60.94 338.28,59.97 338.54,59.00 C338.80,58.03 339.06,57.07 339.31,56.10 C339.56,55.13 339.82,54.17 340.07,53.20 C340.32,52.23 340.56,51.26 340.81,50.29 C341.06,49.32 341.31,48.34 341.55,47.37 C341.80,46.40 342.04,45.43 342.28,44.45 C342.52,43.47 342.75,42.49 342.99,41.51 C343.23,40.53 343.46,39.56 343.70,38.58 C343.94,37.60 344.17,36.61 344.40,35.63 C344.63,34.65 344.86,33.66 345.09,32.68 C345.32,31.70 345.55,30.71 345.78,29.72 C346.01,28.73 346.23,27.74 346.45,26.75 C346.67,25.76 346.90,24.76 347.12,23.77 C347.34,22.78 347.67,21.29 347.78,20.79" stroke="#000" stroke-width="1.2"/>
<path d="M85.02,205.75 C85.48,205.94 86.85,206.50 87.76,206.88 C88.67,207.25 89.59,207.62 90.50,208.00 C91.41,208.38 92.32,208.76 93.24,209.14 C94.16,209.52 95.07,209.89 95.99,210.27 C96.91,210.65 97.82,211.03 98.74,211.41 C99.66,211.79 100.58,212.17 101.50,212.55 C102.42,212.93 103.34,213.30 104.26,213.68 C105.18,214.06 106.11,214.44 107.03,214.82 C107.95,215.20 108.88,215.57 109.80,215.94 C110.72,216.31 111.65,216.69 112.58,217.06 C113.51,217.43 114.43,217.81 115.36,218.18 C116.29,218.55 117.22,218.91 118.15,219.28 C119.08,219.65 120.02,220.01 120.95,220.37 C121.89,220.73 122.82,221.09 123.76,221.45 C124.70,221.81 125.63,222.17 126.57,222.52 C127.51,222.87 128.45,223.22 129.39,223.56 C130.33,223.91 131.28,224.25 132.22,224.59 C133.16,224.93 134.11,225.27 135.06,225.60 C136.01,225.93 136.95,226.26 137.90,226.59 C138.85,226.92 139.81,227.24 140.76,227.56 C141.71,227.88 142.66,228.19 143.62,228.50 C144.58,228.81 145.54,229.11 146.50,229.41 C147.46,229.71 148.42,230.01 149.38,230.30 C150.34,230.59 151.30,230.88 152.27,231.16 C153.24,231.44 154.21,231.71 155.18,231.98 C156.15,232.25 157.13,232.52 158.10,232.78 C159.07,233.04 160.04,233.28 161.02,233.53 C162.00,233.78 162.98,234.02 163.96,234.26 C164.94,234.50 165.93,234.72 166.91,234.94 C167.89,235.16 168.88,235.38 169.87,235.59 C170.86,235.80 171.86,235.99 172.85,236.18 C173.84,236.37 174.84,236.56 175.83,236.73 C176.82,236.90 177.81,237.06 178.81,237.22 C179.81,237.38 180.80,237.53 181.80,237.66 C182.80,237.79 183.80,237.92 184.80,238.03 C185.80,238.14 186.79,238.24 187.79,238.33 C188.79,238.42 189.79,238.49 190.79,238.55 C191.79,238.61 192.79,238.66 193.79,238.70 C194.79,238.74 195.78,238.76 196.78,238.77 C197.78,238.78 198.77,238.77 199.77,238.75 C200.77,238.73 201.76,238.70 202.76,238.65 C203.75,238.60 204.75,238.53 205.74,238.44 C206.73,238.35 207.71,238.26 208.70,238.14 C209.69,238.02 210.67,237.89 211.66,237.74 C212.65,237.59 213.63,237.43 214.61,237.25 C215.59,237.07 216.57,236.87 217.54,236.66 C218.51,236.45 219.48,236.22 220.45,235.98 C221.42,235.74 222.38,235.48 223.34,235.21 C224.30,234.94 225.26,234.66 226.21,234.36 C227.16,234.06 228.11,233.75 229.05,233.42 C229.99,233.09 230.94,232.75 231.87,232.40 C232.81,232.05 233.74,231.67 234.66,231.29 C235.58,230.91 236.50,230.52 237.41,230.11 C238.32,229.70 239.23,229.28 240.13,228.85 C241.03,228.42 241.92,227.97 242.81,227.51 C243.70,227.05 244.59,226.57 245.46,226.09 C246.34,225.61 247.20,225.12 248.06,224.61 C248.92,224.11 249.78,223.59 250.62,223.06 C251.47,222.53 252.30,221.98 253.13,221.43 C253.96,220.88 254.78,220.31 255.59,219.74 C256.40,219.17 257.21,218.59 258.01,217.99 C258.81,217.40 259.59,216.78 260.37,216.17 C261.15,215.55 261.91,214.94 262.67,214.30 C263.43,213.67 264.18,213.02 264.92,212.36 C265.66,211.71 266.40,211.04 267.12,210.37 C267.84,209.70 268.55,209.01 269.26,208.32 C269.97,207.63 270.67,206.93 271.36,206.22 C272.05,205.51 272.74,204.79 273.41,204.07 C274.09,203.34 274.75,202.61 275.41,201.87 C276.07,201.13 276.72,200.38 277.36,199.62 C278.00,198.86 278.63,198.10 279.26,197.33 C279.89,196.56 280.51,195.78 281.12,194.99 C281.73,194.20 282.34,193.41 282.94,192.61 C283.54,191.81 284.12,191.01 284.71,190.20 C285.29,189.39 285.88,188.56 286.45,187.74 C287.02,186.92 287.58,186.09 288.14,185.25 C288.70,184.41 289.25,183.57 289.79,182.73 C290.34,181.88 290.88,181.03 291.41,180.18 C291.94,179.33 292.47,178.47 292.99,177.60 C293.51,176.73 294.02,175.87 294.53,174.99 C295.04,174.12 295.54,173.23 296.04,172.35 C296.54,171.47 297.02,170.58 297.51,169.69 C298.00,168.80 298.47,167.91 298.95,167.01 C299.43,166.11 299.89,165.21 300.36,164.31 C300.83,163.41 301.29,162.50 301.74,161.59 C302.19,160.68 302.64,159.77 303.09,158.86 C303.54,157.95 303.98,157.03 304.42,156.11 C304.86,155.19 305.28,154.27 305.71,153.35 C306.14,152.43 306.57,151.50 306.99,150.58 C307.41,149.66 307.82,148.73 308.23,147.80 C308.64,146.87 309.04,145.95 309.45,145.02 C309.86,144.09 310.26,143.16 310.66,142.23 C311.06,141.30 311.45,140.38 311.84,139.45 C312.23,138.52 312.61,137.59 312.99,136.66 C313.37,135.73 313.75,134.80 314.13,133.87 C314.51,132.94 314.88,132.01 315.25,131.08 C315.62,130.15 316.00,129.22 316.36,128.29 C316.73,127.36 317.08,126.42 317.44,125.49 C317.80,124.56 318.15,123.63 318.50,122.70 C318.85,121.77 319.20,120.83 319.55,119.90 C319.90,118.97 320.24,118.04 320.58,117.11 C320.92,116.18 321.26,115.25 321.60,114.31 C321.94,113.38 322.27,112.44 322.60,111.50 C322.93,110.56 323.26,109.64 323.58,108.70 C323.90,107.77 324.22,106.83 324.54,105.89 C324.86,104.95 325.19,104.02 325.50,103.08 C325.81,102.14 326.12,101.20 326.43,100.26 C326.74,99.32 327.05,98.38 327.36,97.44 C327.67,96.50 327.97,95.56 328.27,94.62 C328.57,93.68 328.86,92.73 329.16,91.79 C329.46,90.85 329.76,89.91 330.05,88.96 C330.34,88.01 330.63,87.07 330.92,86.12 C331.21,85.17 331.50,84.23 331.78,83.28 C332.06,82.33 332.34,81.39 332.62,80.44 C332.90,79.49 333.18,78.53 333.46,77.58 C333.74,76.63 334.02,75.67 334.29,74.72 C334.56,73.77 334.83,72.81 335.10,71.86 C335.37,70.91 335.64,69.95 335.91,68.99 C336.18,68.03 336.45,67.07 336.71,66.11 C336.97,65.15 337.23,64.19 337.49,63.23 C337.75,62.27 338.01,61.31 338.27,60.34 C338.53,59.38 338.78,58.41 339.04,57.44 C339.30,56.47 339.56,55.50 339.81,54.53 C340.06,53.56 340.32,52.59 340.57,51.62 C340.82,50.65 341.07,49.68 341.32,48.70 C341.57,47.73 341.81,46.75 342.06,45.77 C342.31,44.79 342.56,43.81 342.80,42.83 C343.05,41.85 343.29,40.87 343.53,39.88 C343.77,38.90 344.02,37.91 344.26,36.92 C344.50,35.93 344.74,34.95 344.98,33.96 C345.22,32.97 345.46,31.97 345.70,30.98 C345.94,29.99 346.17,29.00 346.41,28.00 C346.65,27.00 346.88,26.00 347.12,25.00 C347.36,24.00 347.59,23.00 347.83,22.00 C348.07,21.00 348.42,19.48 348.54,18.98" stroke="#ff0000" stroke-width="1.2" stroke-dasharray="4.3,3.4"/>
</g>
<rect x="84.95" y="30.50" width="277.55" height="240.00" fill="none" stroke="#000" stroke-width="1.3"/>
<path d="M149.17,270.50 v-2.60 M149.17,30.50 v2.60 M186.73,270.50 v-2.60 M186.73,30.50 v2.60 M213.39,270.50 v-2.60 M213.39,30.50 v2.60 M234.06,270.50 v-2.60 M234.06,30.50 v2.60 M250.95,270.50 v-2.60 M250.95,30.50 v2.60 M265.24,270.50 v-2.60 M265.24,30.50 v2.60 M277.61,270.50 v-2.60 M277.61,30.50 v2.60 M288.52,270.50 v-2.60 M288.52,30.50 v2.60 M298.28,270.50 v-4.90 M298.28,30.50 v4.90 M84.95,255.51 h3.00 M362.50,255.51 h-3.00 M84.95,243.88 h3.00 M362.50,243.88 h-3.00 M84.95,234.38 h3.00 M362.50,234.38 h-3.00 M84.95,226.34 h3.00 M362.50,226.34 h-3.00 M84.95,219.38 h3.00 M362.50,219.38 h-3.00 M84.95,213.25 h3.00 M362.50,213.25 h-3.00 M84.95,207.75 h5.60 M362.50,207.75 h-5.60 M84.95,171.63 h3.00 M362.50,171.63 h-3.00 M84.95,150.50 h3.00 M362.50,150.50 h-3.00 M84.95,135.51 h3.00 M362.50,135.51 h-3.00 M84.95,123.88 h3.00 M362.50,123.88 h-3.00 M84.95,114.38 h3.00 M362.50,114.38 h-3.00 M84.95,106.34 h3.00 M362.50,106.34 h-3.00 M84.95,99.38 h3.00 M362.50,99.38 h-3.00 M84.95,93.25 h3.00 M362.50,93.25 h-3.00 M84.95,87.75 h5.60 M362.50,87.75 h-5.60 M84.95,51.63 h3.00 M362.50,51.63 h-3.00" stroke="#000" stroke-width="1.0" fill="none"/>
<path d="M101.5,70.4 H145" stroke="#000" stroke-width="1.3"/>
<path d="M101.5,85.35 H144.4" stroke="#ff0000" stroke-width="1.3" stroke-dasharray="4.3,3.4"/>
<g font-family="'Liberation Serif', serif" fill="#000" stroke="#000" stroke-width="0.12" style="font-kerning:none">
<text transform="translate(102.30,51.90) scale(1.0,1.19)" font-size="16.2" text-anchor="start" >Stage IV</text>
<text transform="translate(149.80,73.70) scale(1.0,1.2)" font-size="11.45" text-anchor="start" >Total Error</text>
<text transform="translate(149.80,88.65) scale(1.0,1.2)" font-size="11.45" text-anchor="start" >WL Error Only</text>
<text transform="translate(101.80,258.70) scale(1.0,1.2)" font-size="12.1" text-anchor="start" >Bottom to top: M=1,2,4,8x10<tspan font-size="7.3" dy="-4.6">14</tspan><tspan dy="4.6" dx="0.5"> M</tspan></text>
<text transform="translate(51.95,94.35) scale(1.0,1.19)" font-size="16.5" text-anchor="start" >0.10</text>
<text transform="translate(51.95,214.35) scale(1.0,1.225)" font-size="16.1" text-anchor="start" >0.01</text>
<text transform="translate(74.45,294.00) scale(1.0,1.27)" font-size="15.4" text-anchor="start" >0.1</text>
<text transform="translate(288.75,294.00) scale(1.0,1.24)" font-size="15.8" text-anchor="start" >1.0</text>
<text transform="translate(223.60,313.90) scale(1.0,1.2)" font-size="16.4" text-anchor="middle" >Redshift</text>
<text transform="translate(39.80,153.30) scale(1.0,1.15) rotate(-90)" font-size="16" text-anchor="middle" >&#916; ln M</text>
</g>
<ellipse cx="268.9" cy="258.4" rx="2.75" ry="3.0" fill="none" stroke="#000" stroke-width="0.8"/><ellipse cx="268.9" cy="258.4" rx="0.75" ry="0.8" fill="#000"/>
</svg>
</body></html>
